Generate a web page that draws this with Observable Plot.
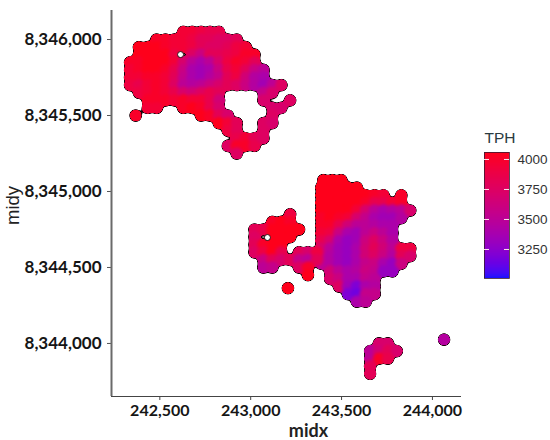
<!DOCTYPE html>
<html>
<head>
<meta charset="utf-8">
<script src="https://cdn.jsdelivr.net/npm/d3@7"></script>
<script src="https://cdn.jsdelivr.net/npm/@observablehq/plot@0.6"></script>
<style>
html,body{margin:0;padding:0;background:#fff}
#wrap{position:relative;width:550px;height:440px;overflow:hidden}
#wrap > svg{position:absolute;overflow:visible;background:transparent}
</style>
</head>
<body>
<svg width="0" height="0" style="position:absolute">
  <filter id="gooFill" x="-5%" y="-5%" width="110%" height="110%" color-interpolation-filters="sRGB">
    <feGaussianBlur stdDeviation="1.7"/>
    <feColorMatrix values="1 0 0 0 0 0 1 0 0 0 0 0 1 0 0 0 0 0 14 -7"/>
  </filter>
  <filter id="gooEdge" x="-5%" y="-5%" width="110%" height="110%" color-interpolation-filters="sRGB">
    <feGaussianBlur stdDeviation="1.8"/>
    <feColorMatrix values="1 0 0 0 0 0 1 0 0 0 0 0 1 0 0 0 0 0 6 -2.6"/>
  </filter>
</svg>
<div id="wrap"></div>
<script>
const xTicks = [242500, 243000, 243500, 244000];
const yTicks = [8344000, 8344500, 8345000, 8345500, 8346000];
const legendTicks = [3250, 3500, 3750, 4000];
const step = 49;

// each row: midy, first midx, TPH readings going east
const northBlob = [
  [8346050, 242629, [3950,3950,3900,3850,3850]],
  [8346000, 242482, [4000,4000,3950,3950,3900,3800,3800,3750,3750,3800]],
  [8345950, 242385, [4050,4050,4050,4000,3950,3950,3900,3800,3750,3750,3800,3900,3950]],
  [8345900, 242385, [4050,4050,4050,4050,3900]],
  [8345900, 242678, [3750,3600,3800,3800,3850,3900,4000,4000]],
  [8345850, 242336, [4000,4000,4050,4050,4050,3950,3700,3500,3400,3500,3700,3900,4000,3950,3800]],
  [8345800, 242336, [3950,4000,4050,4050,4000,3850,3600,3400,3350,3400,3600,3850,3950,3800,3600,3500]],
  [8345750, 242336, [3950,3950,4000,4000,3950,3800,3550,3400,3350,3450,3550,3800,3900,3650,3450,3400]],
  [8345700, 242336, [3900,3850,3950,4000,3950,3750,3500,3450,3500,3600,3700,3800,3750,3600,3450,3350,3500,3750]],
  [8345650, 242385, [3900,3950,4000,3950,3850,3700,3650,3750,3850,3800]],
  [8345650, 243070, [3550,3700]],
  [8345600, 242434, [4000,4000,4000,3950,4000,3950,3950,3850,3650]],
  [8345600, 243070, [3700]],
  [8345600, 243217, [3750]],
  [8345550, 242434, [3950,3950]],
  [8345550, 242629, [4000,4050,4000,3850,3700]],
  [8345550, 243119, [3700,3700]],
  [8345500, 242367, [4000]],
  [8345500, 242727, [4050,4000,3800,3700]],
  [8345500, 243119, [3750]],
  [8345450, 242825, [4050,3950,3800]],
  [8345450, 243070, [3750,3700]],
  [8345400, 242874, [3900,3800]],
  [8345400, 243070, [3750]],
  [8345350, 242923, [3850,3950,3800,3750]],
  [8345300, 242874, [3750,4000,4000,3850]],
  [8345250, 242923, [3750]]
];
const eastBlob = [
  [8345075, 243400, [4050,4050,4050]],
  [8345025, 243388, [4050,4050,4050,4050,4050]],
  [8344975, 243388, [4050,4050,4050,4050,4050,4050,4000,3950]],
  [8344975, 243829, [4000]],
  [8344925, 243388, [4050,4050,4050,4050,4050,4000,3850,3850,3950,4000]],
  [8344875, 243388, [4050,4050,4050,4050,3950,3700,3500,3400,3450,3500,3700]],
  [8344825, 243388, [4000,4050,4000,3950,3700,3550,3400,3350,3350,3450]],
  [8344775, 243388, [4000,4000,3850,3650,3500,3500,3450,3400,3400]],
  [8344725, 243388, [3950,3900,3600,3400,3350,3500,3600,3500,3400]],
  [8344675, 243388, [3850,3700,3400,3300,3350,3600,3750,3600,3450]],
  [8344625, 243388, [3700,3500,3350,3300,3400,3650,3800,3650,3500,3900,3900]],
  [8344575, 243388, [3600,3450,3350,3300,3400,3650,3750,3600,3450,3800,3700]],
  [8344525, 243388, [3500,3450,3350,3300,3400,3550,3600,3400,3300,3600]],
  [8344475, 243437, [3650,3500,3400,3450,3600,3550,3300,3300]],
  [8344425, 243437, [3700,3600,3400,3400,3550,3500]],
  [8344375, 243486, [3750,3350,3200,3400,3450]],
  [8344325, 243535, [3200,3150,3550,3550]],
  [8344275, 243584, [3400,3500]]
];
const westBlob = [
  [8344850, 243217, [3900]],
  [8344800, 243119, [4000,4050,4000]],
  [8344750, 243021, [3800,3850,4050,4050,4050,4050]],
  [8344700, 243021, [3750]],
  [8344700, 243119, [4050,4050,4050]],
  [8344650, 243021, [3800,4000,4050,4050]],
  [8344600, 243021, [3750,3900,4050,3850]],
  [8344600, 243266, [3800,3700,3900]],
  [8344550, 243070, [3600,3800,3700,3800,3550,3500,3800]],
  [8344500, 243070, [3500,3550]],
  [8344500, 243266, [3750]],
  [8344500, 243315, [4000]],
  [8344450, 243315, [4050]],
  [8344364, 243205, [4050]]
];
const southBlob = [
  [8344000, 243706, [3700,3700]],
  [8343950, 243657, [3500,3650,3800,3700]],
  [8343900, 243657, [3500,4000,3850]],
  [8343850, 243657, [3800]],
  [8343800, 243657, [3800]],
  [8344025, 244064, [3450]]
];
// unsampled gaps inside the blobs: midx, midy
const gaps = [[242614, 8345901], [243092, 8344697]];

const points = [northBlob, eastBlob, westBlob, southBlob].flat().flatMap(
  ([midy, x0, values]) => values.map((TPH, i) => ({midx: x0 + step * i, midy, TPH}))
);

const color = {type: "linear", domain: [3008, 4058], range: ["#1a10ff", "#ff0018"], interpolate: "lab"};
const xDomain = [242234, 244160];
const yDomain = [8343651, 8346191];
const fmt = d3.format(",");

const main = Plot.plot({
  width: 550, height: 440,
  marginLeft: 111, marginRight: 89, marginTop: 10, marginBottom: 44,
  style: {background: "transparent"},
  x: {domain: xDomain, label: null},
  y: {domain: yDomain, label: null},
  color,
  marks: [
    Plot.dot(points, {x: "midx", y: "midy", r: 6.6, fill: "#1a0008", stroke: "none", imageFilter: "url(#gooEdge)"}),
    Plot.dot(points, {x: "midx", y: "midy", r: 6.2, fill: "TPH", stroke: "none", imageFilter: "url(#gooFill)"}),
    Plot.dot(gaps, {x: d => d[0], y: d => d[1], r: 3, fill: "white", stroke: "#1a0008", strokeWidth: 0.9}),
    Plot.axisX({ticks: xTicks, tickFormat: fmt, tickSize: 4, tickPadding: 4, stroke: "#444", label: null,
      fontFamily: "Lato", fontSize: 16, fontWeight: 700, fill: "#151515"}),
    Plot.axisY({ticks: yTicks, tickFormat: fmt, tickSize: 4, tickPadding: 6, stroke: "#555", label: null,
      fontFamily: "Lato", fontSize: 17, fontWeight: 700, fill: "#151515"}),
    Plot.ruleX([xDomain[0]], {stroke: "#6a6a6a", strokeWidth: 2}),
    Plot.ruleY([yDomain[0]], {stroke: "#444", strokeWidth: 1.2}),
    Plot.text(["midx"], {x: [243318], frameAnchor: "bottom", dy: 40, text: d => d,
      fontFamily: "Lato", fontSize: 18, fontWeight: 700, fill: "#222"}),
    Plot.text(["midy"], {frameAnchor: "left", dx: -98, dy: 2, rotate: -90, textAnchor: "middle", text: d => d,
      fontFamily: "Liberation Sans", fontSize: 18.5, fill: "#222"})
  ]
});
main.style.left = "0px"; main.style.top = "0px";
document.getElementById("wrap").appendChild(main);

const ramp = d3.range(3008, 4058, 5);
const legend = Plot.plot({
  width: 90, height: 170,
  marginLeft: 24, marginRight: 41, marginTop: 32, marginBottom: 12,
  style: {background: "transparent"},
  x: {domain: [0, 1], axis: null},
  y: {domain: [3008, 4058], label: null},
  color,
  marks: [
    Plot.rect(ramp, {x1: 0, x2: 1, y1: d => d, y2: d => d + 5, fill: d => d, shapeRendering: "crispEdges"}),
    Plot.frame({stroke: "#3a1a30", strokeWidth: 0.8}),
    Plot.ruleY(legendTicks, {x1: 0, x2: 0.2, stroke: "#ffe8ee", strokeWidth: 1}),
    Plot.ruleY(legendTicks, {x1: 0.8, x2: 1, stroke: "#ffe8ee", strokeWidth: 1}),
    Plot.axisY({anchor: "right", ticks: legendTicks, tickFormat: d => String(d), tickSize: 0, tickPadding: 8,
      label: null, fontFamily: "Liberation Sans", fontSize: 13.5, fill: "#333"}),
    Plot.text(["TPH"], {frameAnchor: "top-left", dy: -21, textAnchor: "start", text: d => d,
      fontFamily: "Liberation Sans", fontSize: 15.5, fill: "#2a3a40"})
  ]
});
legend.style.left = "460px"; legend.style.top = "120px";
document.getElementById("wrap").appendChild(legend);
</script>
</body>
</html>
